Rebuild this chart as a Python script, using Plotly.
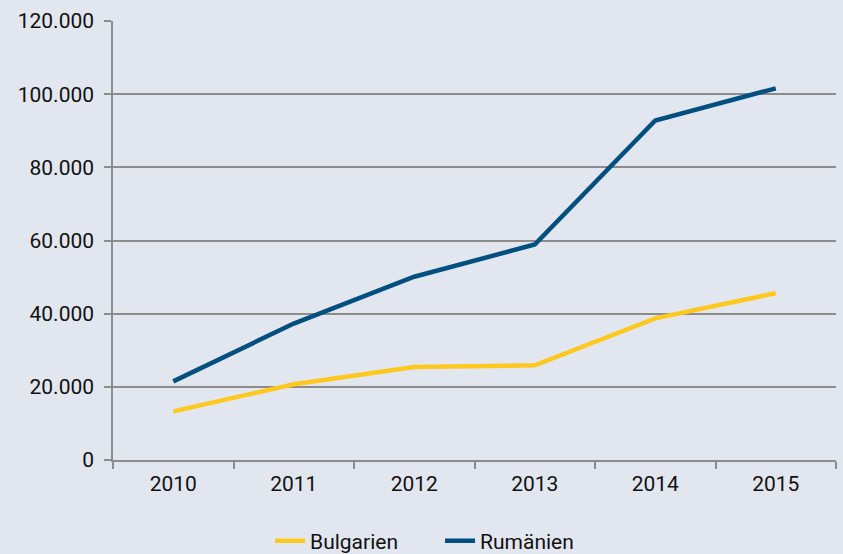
import plotly.graph_objects as go

years = ["2010", "2011", "2012", "2013", "2014", "2015"]
bulgarien = [13300, 20700, 25400, 25900, 38700, 45600]
rumaenien = [21500, 37300, 50100, 58900, 92800, 101600]

fig = go.Figure()
fig.add_trace(go.Scatter(x=years, y=bulgarien, name="Bulgarien", mode="lines",
                         line=dict(color="#FFC81E", width=4.5)))
fig.add_trace(go.Scatter(x=years, y=rumaenien, name="Rumänien", mode="lines",
                         line=dict(color="#004F7F", width=4.5)))

axis_color = "#8C8C8C"
bg = "#E2E6EF"
fig.update_layout(
    width=843, height=554,
    paper_bgcolor=bg, plot_bgcolor=bg,
    margin=dict(l=113, r=7, t=21, b=94, autoexpand=False),
    separators=",.",
    font=dict(family="Roboto, Noto Sans, sans-serif", size=21, color="#111111"),
    xaxis=dict(type="category", range=[-0.5, 5.5], tickson="boundaries",
               ticks="outside", ticklen=7, tickcolor=axis_color, tickwidth=1.5,
               showline=True, linecolor=axis_color, linewidth=1.5,
               showgrid=False, zeroline=False, fixedrange=True,
               ticklabelstandoff=4, automargin=False),
    yaxis=dict(range=[0, 120000], dtick=20000, tickformat=",d",
               ticks="outside", ticklen=7, tickcolor=axis_color, tickwidth=1.5,
               showline=True, linecolor=axis_color, linewidth=1.5,
               showgrid=True, gridcolor=axis_color, gridwidth=1.5,
               zeroline=False, fixedrange=True, ticklabelstandoff=6,
               automargin=False),
    legend=dict(orientation="h", x=0.522, xanchor="center", xref="container",
                y=0.0235, yanchor="middle", yref="container",
                bgcolor="rgba(0,0,0,0)", font=dict(size=21), entrywidth=125),
    showlegend=True,
)

fig.write_html("out.html", config={"displayModeBar": False},
               post_script="document.body.style.margin='0';document.body.style.background='#E2E6EF';")
